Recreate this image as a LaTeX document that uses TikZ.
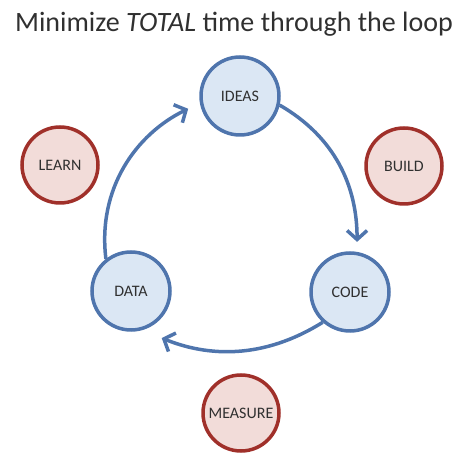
\documentclass[tikz,border=0pt]{standalone}
\usepackage{fontspec}
\setmainfont{Carlito}
\usetikzlibrary{arrows.meta}
\definecolor{bline}{HTML}{4F75AD}
\definecolor{bfill}{HTML}{DBE7F4}
\definecolor{rline}{HTML}{A0302A}
\definecolor{rfill}{HTML}{F2DCD9}
\definecolor{txt}{HTML}{303030}
\tikzset{
  blue node/.style={circle, draw=bline, fill=bfill, line width=3.5pt, minimum size=78pt, inner sep=0pt, font=\fontsize{16}{17}\selectfont, text=txt},
  red node/.style={circle, draw=rline, fill=rfill, line width=3.5pt, minimum size=76pt, inner sep=0pt, font=\fontsize{16}{17}\selectfont, text=txt},
  loop arrow/.style={draw=bline, line width=3.5pt, -{Straight Barb[length=9pt,width=20pt,line width=3.5pt]}},
}
\begin{document}
\begin{tikzpicture}[x=1pt,y=1pt]
\useasboundingbox (0,0) rectangle (468,468);
\node[font=\fontsize{28}{32}\selectfont, text=txt] (title) at (234,444) {Minimize \textit{TOTAL} time through the loop};
\node[blue node] (ideas) at (240,372) {IDEAS};
\node[blue node] (code) at (350,176) {CODE};
\node[blue node] (data) at (131,177) {DATA};
\node[red node] (build) at (404,302) {BUILD};
\node[red node] (learn) at (60,303) {LEARN};
\node[red node] (measure) at (241,55) {MEASURE};
\draw[loop arrow, shorten >=10pt] (ideas.-13) to[out=-30, in=90] (code.80);
\draw[loop arrow, shorten >=21pt] (code.-132) to[out=212, in=-22] (data.-74);
\draw[loop arrow, shorten >=13pt] (data.128) to[out=97, in=206] (ideas.190);
\end{tikzpicture}
\end{document}
